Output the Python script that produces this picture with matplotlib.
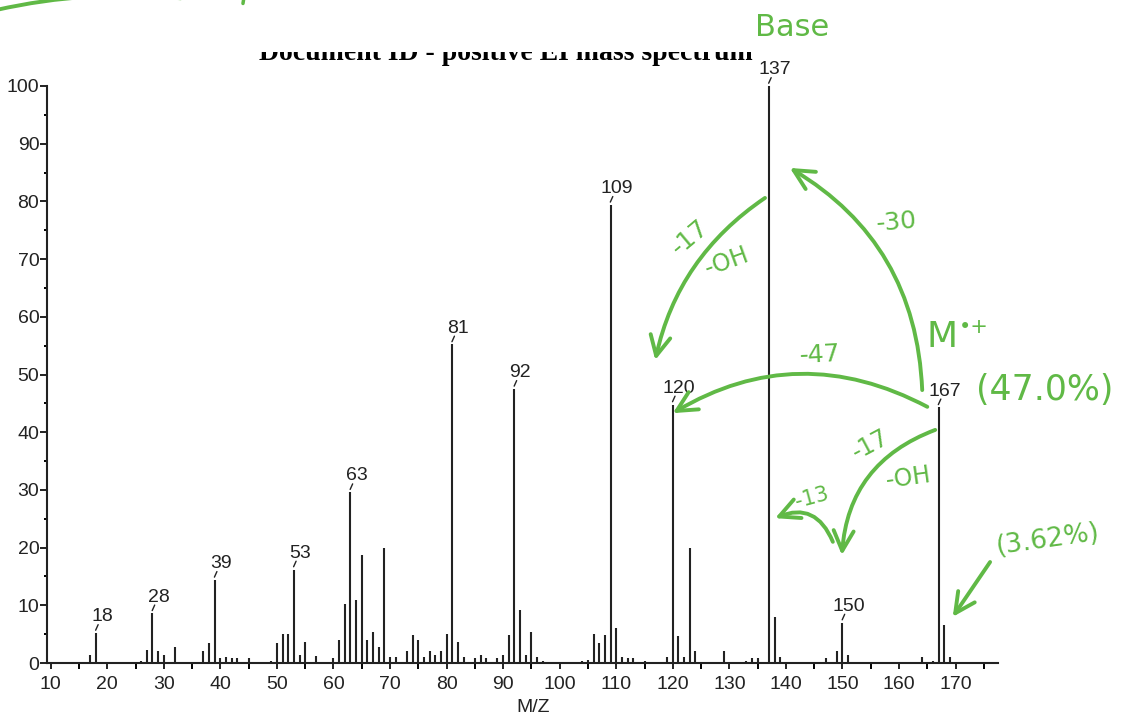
import matplotlib
matplotlib.use('Agg')
import matplotlib.pyplot as plt
from matplotlib.patches import Rectangle
from matplotlib.transforms import ScaledTranslation

plt.rcParams['font.family'] = ['Liberation Sans', 'DejaVu Sans']

# peak list (m/z, relative intensity %)
mz = [17, 18, 26, 27, 28, 29, 30, 32, 37, 38, 39, 40, 41, 42, 43, 45,
      49, 50, 51, 52, 53, 54, 55, 57, 60, 61, 62, 63, 64, 65, 66, 67, 68, 69,
      70, 71, 73, 74, 75, 76, 77, 78, 79, 80, 81, 82, 83, 85, 86, 87, 89, 90,
      91, 92, 93, 94, 95, 96, 97, 104, 105, 106, 107, 108, 109, 110, 111, 112,
      113, 115, 119, 120, 121, 122, 123, 124, 129, 133, 134, 135, 137, 138,
      139, 147, 149, 150, 151, 164, 166, 167, 168, 169]
intensity = [1.4, 5.2, 0.4, 2.3, 8.6, 2.0, 1.4, 2.8, 2.0, 3.4, 14.4, 0.9, 1.1, 0.9, 0.9, 0.8,
             0.3, 3.5, 5.1, 5.1, 16.2, 1.4, 3.7, 1.2, 0.9, 4.0, 10.2, 29.6, 11.0, 18.7, 4.0, 5.4, 2.8, 19.9,
             1.1, 1.1, 2.0, 4.8, 4.0, 1.1, 2.0, 1.4, 2.0, 5.1, 55.2, 3.7, 1.1, 0.9, 1.4, 0.9, 0.9, 1.4,
             4.8, 47.5, 9.1, 1.4, 5.4, 1.1, 0.4, 0.3, 0.5, 5.1, 3.5, 4.9, 79.4, 6.0, 1.1, 0.9,
             0.9, 0.3, 1.1, 44.8, 4.6, 1.1, 19.9, 2.0, 2.0, 0.3, 0.9, 0.9, 100.0, 7.9,
             1.1, 0.9, 2.0, 7.0, 1.4, 1.0, 0.4, 44.3, 6.5, 1.1]
labelled = [18, 28, 39, 53, 63, 81, 92, 109, 120, 137, 150, 167]

title = 'Document ID - positive EI mass spectrum'

INK = '#222222'
GREEN = '#60b946'

fig = plt.figure(figsize=(11.28, 7.17), dpi=100)
ax = fig.add_axes([47 / 1128, 1 - 663 / 717, 951 / 1128, 577 / 717])

ax.vlines(mz, 0, intensity, color=INK, lw=1.5)

ax.set_xlim(9.35, 177.5)
ax.set_ylim(0, 100)
ax.set_xticks(range(10, 171, 10))
ax.set_xticks(range(15, 176, 10), minor=True)
ax.set_yticks(range(0, 101, 10))
ax.set_yticks(range(5, 100, 10), minor=True)
for side in ('top', 'right'):
    ax.spines[side].set_visible(False)
for side in ('left', 'bottom'):
    ax.spines[side].set_linewidth(1.5)
    ax.spines[side].set_color(INK)
ax.tick_params(axis='x', which='major', direction='out', length=4.5, width=1.4,
               pad=5, labelsize=14, colors=INK)
ax.tick_params(axis='x', which='minor', direction='out', length=4, width=1.4)
ax.tick_params(axis='y', which='major', direction='out', length=5, width=1.4,
               pad=0.5, labelsize=14, colors=INK)
ax.tick_params(axis='y', which='minor', direction='out', length=2.5, width=1.4)

fig.text(533 / 1128, 1 - 708 / 717, 'M/Z', ha='center', va='center', fontsize=14, color=INK)

# title: only its lower strip shows in the screenshot, the rest is whited out
fig.text(506 / 1128, 1 - 60 / 717, title, ha='center', va='baseline',
         fontsize=20, fontweight='bold', family='Liberation Serif', color='black')
fig.patches.append(Rectangle((240 / 1128, 1 - 52 / 717), 540 / 1128, 13 / 717,
                             transform=fig.transFigure, facecolor='white',
                             edgecolor='none', zorder=5))


def shifted(dx, dy):
    return ax.transData + ScaledTranslation(dx / 72, dy / 72, fig.dpi_scale_trans)


for m in labelled:
    v = intensity[mz.index(m)]
    ax.annotate(str(m), xy=(m, v), xytext=(4.3, 8.5), textcoords='offset points',
                ha='center', va='baseline', fontsize=14, color=INK)
    ax.annotate('', xy=(m, v), xycoords=shifted(1.6, 6), xytext=(m, v),
                textcoords=shifted(-0.2, 2),
                arrowprops=dict(arrowstyle='-', color=INK, lw=1.0, shrinkA=0, shrinkB=0))


# ---- green hand-written notes ----
def hand_arrow(start, tip, rad, style='->'):
    ax.annotate('', xy=tip, xytext=start, annotation_clip=False,
                arrowprops=dict(arrowstyle=style + ',head_length=0.9,head_width=0.45',
                                connectionstyle='arc3,rad=%s' % rad, color=GREEN,
                                lw=2.8, shrinkA=0, shrinkB=0, mutation_scale=16,
                                capstyle='round', joinstyle='round'))


def note(x, y, s, size=18, rot=0):
    ax.text(x, y, s, color=GREEN, fontsize=size, rotation=rot, ha='center', va='center',
            family='DejaVu Sans', clip_on=False)


hand_arrow((136.3, 80.6), (116.9, 52.5), 0.2)
hand_arrow((164.1, 47.3), (140.7, 85.8), 0.27)
hand_arrow((165.0, 44.4), (120.0, 43.3), 0.28)
hand_arrow((166.4, 40.4), (149.9, 18.7), 0.32)
hand_arrow((148.3, 21.0), (138.1, 25.1), 0.5)
hand_arrow((176.1, 17.5), (169.5, 8.0), 0)
ax.annotate('', xy=(33, 115.2), xytext=(0.5, 113.2), annotation_clip=False,
            arrowprops=dict(arrowstyle='-', connectionstyle='arc3,rad=-0.08',
                            color=GREEN, lw=2.8, shrinkA=0, shrinkB=0))
ax.annotate('', xy=(44.2, 115.5), xytext=(44.0, 114.3), annotation_clip=False,
            arrowprops=dict(arrowstyle='-', color=GREEN, lw=2.5, shrinkA=0, shrinkB=0))

note(141.1, 110.2, 'Base', 22, 0)
note(123.0, 73.8, '-17', 18, 40)
note(129.6, 69.5, '-OH', 17, 20)
note(159.6, 76.4, '-30', 18, 5)
note(167.6, 56.5, 'M', 26, 0)
note(173.2, 58.3, '\u2022+', 15, 0)
note(146.0, 53.4, '-47', 18, 3)
note(185.8, 47.3, '(47.0%)', 25, 0)
note(154.9, 37.8, '-17', 17, 28)
note(161.6, 32.1, '-OH', 17, 8)
note(144.6, 28.6, '-13', 15, 15)
note(186.3, 21.3, '(3.62%)', 19, 8)

fig.savefig('out.png', dpi=100)
